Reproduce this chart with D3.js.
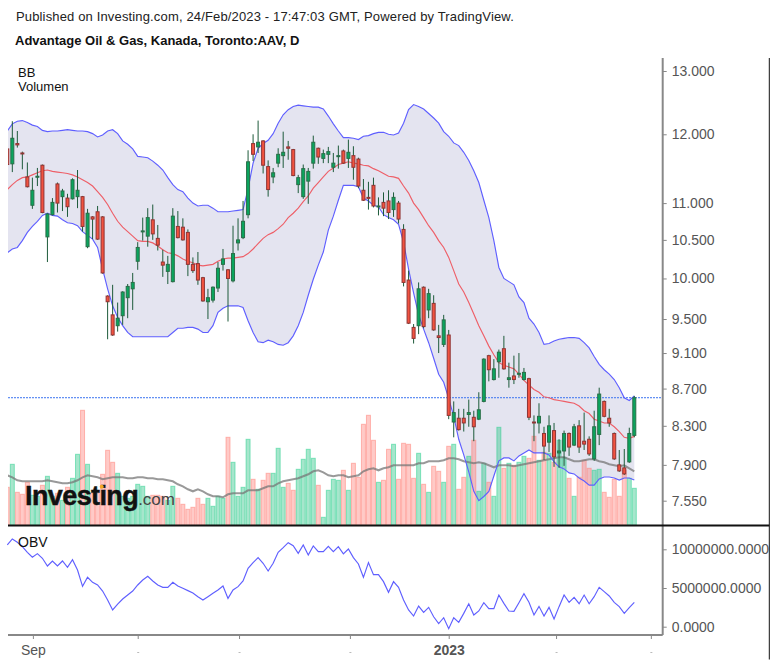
<!DOCTYPE html>
<html>
<head>
<meta charset="utf-8">
<script src="https://cdn.jsdelivr.net/npm/d3@7"></script>
<style>
    html, body { margin: 0; padding: 0; background: #fff; }
    svg { display: block; font-family: "Liberation Sans", Arial, sans-serif; }
    .axis text { font-size: 14px; fill: #555; }
    .axis path, .axis line { stroke: #888; }
    .axis path { stroke-width: 2; }
</style>
</head>
<body>
<svg id="chart" width="777" height="664"></svg>
<script>
// daily candles, AAV Toronto
const opens = [
    11.78,11.56,11.86,11.72,11.37,10.97,11.37,11.54,10.54,10.84,
    11.27,11.09,11.07,11.06,11.09,11.09,10.41,10.81,10.88,10.81,
    9.78,9.55,9.42,9.54,9.76,9.87,10.22,10.61,10.55,10.77,
    10.52,10.21,10.09,9.96,10.68,10.67,10.60,10.18,10.19,10.01,
    9.71,9.73,9.88,10.18,10.11,9.97,10.46,10.53,10.84,11.86,
    11.81,11.90,11.52,11.37,11.57,11.68,11.81,11.77,11.26,11.09,
    11.31,11.57,11.79,11.64,11.70,11.51,11.67,11.75,11.64,11.68,
    11.63,11.18,11.08,11.25,10.95,11.01,11.03,10.91,11.00,10.64,
    9.98,9.40,9.42,9.89,9.61,9.69,9.30,9.20,9.31,8.34,
    8.38,8.38,8.42,8.39,8.37,8.56,9.07,8.80,9.00,9.15,
    8.80,8.84,8.86,8.80,8.81,8.34,8.33,8.22,8.13,8.25,
    8.02,8.04,8.22,8.10,8.30,8.14,8.16,7.96,8.21,8.56,
    8.38,8.22,7.90,7.87,7.93,8.20];
const highs = [
    11.80,12.20,12.05,11.74,11.58,11.36,11.50,11.55,10.86,11.07,
    11.29,11.20,11.13,11.35,11.47,11.10,10.92,10.82,10.96,10.82,
    9.79,9.92,9.70,9.84,9.93,10.07,10.47,10.80,10.93,10.98,
    10.70,10.37,10.29,10.93,10.89,10.79,10.64,10.27,10.34,10.02,
    9.87,9.90,10.21,10.38,10.12,10.69,10.79,11.03,11.76,12.00,
    12.21,11.91,11.61,11.50,11.79,12.04,11.90,11.78,11.40,11.55,
    11.50,11.98,11.80,11.77,11.81,11.72,11.83,11.77,11.92,11.82,
    11.65,11.34,11.30,11.36,11.08,11.15,11.18,11.15,11.03,10.71,
    10.10,9.44,9.95,9.90,9.87,9.79,9.43,9.55,9.37,8.56,
    8.48,8.48,8.58,8.46,8.66,9.04,9.08,9.03,9.14,9.30,
    8.99,9.07,9.10,8.93,8.82,8.41,8.54,8.29,8.41,8.33,
    8.16,8.25,8.23,8.32,8.36,8.44,8.19,8.46,8.71,8.57,
    8.48,8.23,8.05,8.06,8.28,8.62];
const lows = [
    11.54,11.44,11.80,11.48,11.22,10.92,11.24,10.86,10.21,10.83,
    10.87,10.89,10.81,11.05,10.93,10.61,10.39,10.51,10.50,10.06,
    9.26,9.30,9.35,9.43,9.51,9.61,10.11,10.49,10.41,10.50,
    10.36,10.02,9.93,9.95,10.52,10.49,10.03,10.07,9.92,9.71,
    9.50,9.70,9.83,10.10,9.47,9.95,10.36,10.51,10.79,11.60,
    11.72,11.42,11.09,11.28,11.51,11.50,11.62,11.38,11.14,11.06,
    10.99,11.49,11.56,11.57,11.57,11.44,11.49,11.56,11.50,11.33,
    11.21,11.03,10.91,10.94,10.83,10.82,10.78,10.81,10.72,9.90,
    9.44,9.21,9.32,9.39,9.51,9.36,9.10,9.17,8.37,8.18,
    8.25,8.24,8.29,8.14,8.36,8.55,8.78,8.79,8.82,8.91,
    8.71,8.75,8.82,8.79,8.36,8.14,8.22,7.95,8.03,7.88,
    7.87,7.89,7.99,8.09,8.02,8.05,7.99,7.94,8.10,8.39,
    8.29,7.95,7.83,7.80,7.92,8.18];
const closes = [
    11.55,11.94,11.84,11.71,11.23,11.18,11.38,10.87,10.85,11.01,
    11.00,11.17,10.95,11.33,11.18,10.68,10.86,10.78,10.51,10.07,
    9.71,9.31,9.51,9.83,9.90,9.95,10.40,10.62,10.80,10.58,
    10.43,10.17,10.18,10.82,10.53,10.50,10.18,10.10,9.98,9.72,
    9.76,9.89,10.13,10.25,10.00,10.32,10.50,10.75,11.59,11.70,
    11.88,11.54,11.19,11.43,11.70,11.73,11.79,11.39,11.36,11.49,
    11.45,11.88,11.66,11.71,11.74,11.57,11.68,11.57,11.73,11.51,
    11.24,11.04,11.07,10.96,10.96,10.93,10.87,11.08,10.78,9.95,
    9.45,9.27,9.87,9.41,9.81,9.37,9.28,9.49,8.41,8.44,
    8.26,8.33,8.44,8.29,8.47,9.03,8.91,8.92,9.11,8.92,
    8.82,8.80,8.87,8.88,8.39,8.33,8.40,8.09,8.30,7.98,
    8.04,8.22,8.08,8.29,8.08,8.11,8.01,8.29,8.64,8.40,
    8.33,7.96,7.84,7.81,8.22,8.60];

// volume, thousands of shares (no scale on the picture, so an estimate)
const volumes = [
    380,610,330,310,430,300,290,400,490,290,
    320,250,380,470,710,1150,610,320,320,510,
    750,630,520,290,270,290,410,390,290,300,
    300,290,250,390,270,210,160,180,270,210,
    270,190,290,270,880,630,290,380,860,460,
    360,450,520,520,770,380,420,350,560,660,
    760,670,400,80,350,460,450,550,350,620,
    480,1010,1100,850,430,450,760,810,460,820,
    810,470,720,410,330,590,540,430,790,810,
    360,480,690,850,340,620,430,290,980,570,
    620,600,630,690,670,890,650,730,720,630,
    850,680,470,290,480,650,570,550,560,330,
    280,460,290,550,470,370];
const volumeMa = [
    500,480,450,440,440,440,440,440,450,440,
    430,420,420,430,450,480,500,490,480,460,
    470,480,480,480,470,470,480,480,470,470,
    460,460,450,440,410,390,360,340,360,340,
    310,290,290,280,310,320,320,320,350,350,
    350,370,390,390,420,440,450,460,470,490,
    510,540,550,530,500,490,500,500,480,490,
    500,540,560,570,550,570,580,600,600,600,
    600,600,620,620,640,640,640,650,670,670,
    660,640,630,620,630,620,600,580,600,600,
    600,590,600,610,620,630,640,650,660,670,
    680,680,660,640,640,650,660,660,640,630,
    610,600,590,600,570,540];

// bollinger bands
const bbUpper = [
    12.05,12.16,12.20,12.21,12.18,12.14,12.12,12.06,12.04,12.05,
    12.05,12.06,12.07,12.06,12.05,12.05,12.04,12.01,11.96,11.99,
    12.05,12.07,12.01,11.90,11.85,11.78,11.67,11.66,11.65,11.60,
    11.54,11.47,11.36,11.26,11.19,11.16,11.07,11.00,10.96,10.97,
    10.97,10.93,10.88,10.88,10.88,10.89,10.90,10.91,11.20,11.57,
    11.79,11.86,11.91,12.01,12.17,12.30,12.38,12.43,12.45,12.44,
    12.43,12.42,12.42,12.39,12.28,12.16,12.05,11.95,11.95,11.94,
    11.92,11.97,11.98,12.01,12.03,12.03,12.00,11.99,12.02,12.17,
    12.38,12.46,12.43,12.39,12.32,12.25,12.17,12.04,11.97,11.87,
    11.83,11.73,11.61,11.46,11.29,11.04,10.80,10.49,10.14,10.00,
    9.96,9.92,9.77,9.70,9.51,9.44,9.34,9.20,9.21,9.24,
    9.26,9.27,9.28,9.28,9.27,9.22,9.16,9.06,8.97,8.91,
    8.86,8.80,8.71,8.60,8.57,8.62];
const bbMiddle = [
    11.19,11.26,11.32,11.36,11.37,11.40,11.43,11.46,11.47,11.45,
    11.44,11.43,11.42,11.40,11.37,11.33,11.29,11.24,11.16,11.08,
    10.98,10.86,10.75,10.67,10.61,10.55,10.49,10.48,10.48,10.46,
    10.42,10.37,10.33,10.32,10.29,10.25,10.22,10.20,10.17,10.16,
    10.17,10.18,10.22,10.25,10.26,10.26,10.27,10.28,10.32,10.38,
    10.45,10.52,10.57,10.60,10.65,10.71,10.80,10.86,10.93,11.02,
    11.10,11.21,11.29,11.37,11.45,11.50,11.55,11.57,11.59,11.57,
    11.56,11.54,11.53,11.49,11.46,11.42,11.38,11.37,11.35,11.24,
    11.14,11.00,10.91,10.80,10.69,10.60,10.49,10.40,10.27,10.10,
    9.93,9.83,9.70,9.56,9.42,9.30,9.18,9.08,8.99,8.96,
    8.94,8.92,8.86,8.79,8.74,8.69,8.66,8.61,8.60,8.58,
    8.57,8.56,8.55,8.54,8.51,8.46,8.43,8.37,8.35,8.33,
    8.33,8.29,8.24,8.18,8.17,8.19];
const bbLower = [
    10.33,10.38,10.40,10.49,10.60,10.68,10.75,10.83,10.86,10.83,
    10.82,10.77,10.73,10.72,10.69,10.61,10.56,10.51,10.40,10.12,
    9.87,9.66,9.52,9.42,9.34,9.29,9.29,9.29,9.29,9.29,
    9.29,9.29,9.29,9.34,9.39,9.39,9.40,9.40,9.38,9.34,
    9.34,9.42,9.58,9.63,9.66,9.66,9.66,9.64,9.48,9.34,
    9.23,9.22,9.25,9.23,9.20,9.19,9.22,9.30,9.42,9.58,
    9.79,9.99,10.17,10.34,10.63,10.82,11.04,11.25,11.25,11.25,
    11.23,11.07,11.03,10.97,10.95,10.84,10.80,10.77,10.71,10.47,
    10.12,9.82,9.55,9.38,9.22,9.04,8.86,8.77,8.59,8.40,
    8.16,8.00,7.83,7.64,7.55,7.59,7.64,7.79,7.94,7.97,
    7.97,7.94,7.99,8.02,8.05,8.02,8.02,8.02,8.00,7.93,
    7.88,7.86,7.82,7.81,7.77,7.74,7.70,7.70,7.76,7.78,
    7.78,7.77,7.75,7.77,7.77,7.75];

// on balance volume, millions
const obv = [
    10.56,11.34,10.91,10.34,9.61,8.97,9.44,8.84,7.84,8.49,
    7.84,8.49,7.67,8.66,7.33,5.22,6.38,5.73,5.39,4.61,
    3.45,2.16,2.93,3.58,4.09,4.61,5.39,6.03,6.51,5.91,
    5.39,5.09,5.09,5.73,5.26,4.96,4.66,4.35,3.88,3.45,
    3.88,4.31,4.74,5.26,3.66,4.74,5.17,5.91,7.54,8.28,
    8.92,8.19,7.20,8.19,9.61,10.22,10.86,10.47,9.48,10.56,
    9.27,10.43,9.70,9.70,10.39,9.70,10.34,9.40,10.04,8.92,
    8.10,6.38,8.28,6.72,6.72,5.82,4.44,5.82,5.09,3.45,
    2.16,1.38,2.67,1.85,2.50,1.29,0.39,1.16,-0.26,1.16,
    0.56,1.72,2.97,1.51,2.03,3.10,2.33,2.33,4.09,3.02,
    2.03,1.98,3.10,4.27,3.15,1.51,2.63,1.38,2.50,0.99,
    2.59,4.09,3.15,3.79,2.97,4.09,2.97,3.88,5.09,4.53,
    3.97,3.15,2.59,1.72,2.46,3.15];

const priceTicks = [13, 12, 11, 10.5, 10, 9.5, 9.1, 8.7, 8.3, 7.9, 7.55];
const obvTicks = [0, 5000000, 10000000];
// month ticks, in bar units since the sessions do not line up with them
const timeTicks = [5.1, 26, 46.2, 68.3, 88, 109.4, 128.3];
const timeLabels = ["Sep", "", "", "", "2023", "", ""];
const lastPrice = 8.60;

const svg = d3.select("#chart");
const plotLeft = 8, plotRight = 662.7;

const x = d3.scaleLinear().domain([0, 125]).range([7.3, 634.3]);
const y = d3.scaleLog().domain([13, 7.55]).range([71, 500.7]);
const yVol = d3.scaleLinear().domain([0, 1300]).range([525.3, 395.3]);
const yObv = d3.scaleLinear().domain([0, 10000000]).range([626.7, 549.3]);

const bars = opens.map((o, i) => ({
    i, o, h: highs[i], l: lows[i], c: closes[i], up: closes[i] >= o
}));

const defs = svg.append("defs");
defs.append("clipPath").attr("id", "mainClip").append("rect")
    .attr("x", plotLeft).attr("y", 58).attr("width", plotRight - plotLeft).attr("height", 467);

// headers
svg.append("text").attr("x", 16).attr("y", 21).attr("font-size", 13).attr("letter-spacing", 0.15).attr("fill", "#222")
    .text("Published on Investing.com, 24/Feb/2023 - 17:47:03 GMT, Powered by TradingView.");
svg.append("text").attr("x", 15).attr("y", 45).attr("font-size", 13).attr("font-weight", "bold").attr("fill", "#111")
    .text("Advantage Oil & Gas, Kanada, Toronto:AAV, D");

const main = svg.append("g").attr("clip-path", "url(#mainClip)");

// band fill
const band = d3.area().x((d, i) => x(i)).y0((d, i) => y(bbLower[i])).y1(d => y(d));
main.append("path").datum(bbUpper).attr("d", band).attr("fill", "#e4e4f0");

// volume
main.selectAll(".vol")
    .data(bars)
    .enter()
    .append("rect")
    .attr("class", "vol")
    .attr("x", d => x(d.i) - 2)
    .attr("y", d => yVol(volumes[d.i]))
    .attr("width", 4)
    .attr("height", d => yVol(0) - yVol(volumes[d.i]))
    .attr("fill", d => d.up ? "#20c080" : "#ff7b72")
    .attr("fill-opacity", 0.4)
    .attr("stroke", d => d.up ? "#20d08a" : "#ff7b72")
    .attr("stroke-opacity", 0.5)
    .attr("stroke-width", 1);

const volLine = d3.line().x((d, i) => x(i)).y(d => yVol(d));
main.append("path").datum(volumeMa).attr("d", volLine)
    .attr("fill", "none").attr("stroke", "#777").attr("stroke-opacity", 0.75).attr("stroke-width", 2);

// last price
main.append("line")
    .attr("x1", plotLeft).attr("x2", plotRight)
    .attr("y1", y(lastPrice)).attr("y2", y(lastPrice))
    .attr("stroke", "#3a72f0").attr("stroke-width", 1).attr("stroke-dasharray", "2,1");

// band lines
const priceLine = d3.line().x((d, i) => x(i)).y(d => y(d));
[[bbUpper, "#5f5fff"], [bbLower, "#5f5fff"], [bbMiddle, "#ee5f68"]].forEach(([series, color]) => {
    main.append("path").datum(series).attr("d", priceLine)
        .attr("fill", "none").attr("stroke", color).attr("stroke-width", 1.15);
});

// candles
main.selectAll(".wick")
    .data(bars)
    .enter()
    .append("line")
    .attr("class", "wick")
    .attr("x1", d => x(d.i)).attr("x2", d => x(d.i))
    .attr("y1", d => y(d.h)).attr("y2", d => y(d.l))
    .attr("stroke", "#1d5a3a").attr("stroke-width", 1);

main.selectAll(".body")
    .data(bars)
    .enter()
    .append("rect")
    .attr("class", "body")
    .attr("x", d => x(d.i) - 1.5)
    .attr("y", d => y(Math.max(d.o, d.c)))
    .attr("width", 3)
    .attr("height", d => Math.max(1, y(Math.min(d.o, d.c)) - y(Math.max(d.o, d.c))))
    .attr("fill", d => d.up ? "#0aa55e" : "#f2523f")
    .attr("stroke", d => d.up ? "#2a6e48" : "#8f3434")
    .attr("stroke-width", 1);

// logo
const logo = svg.append("text").attr("x", 25).attr("y", 505);
logo.append("tspan").attr("font-size", 27).attr("font-weight", "bold").attr("letter-spacing", -0.6)
    .attr("fill", "#111").attr("stroke", "#111").attr("stroke-width", 0.5).text("Investing");
logo.append("tspan").attr("font-size", 17).attr("fill", "#444").text(".com");
svg.append("circle").attr("cx", 101.7).attr("cy", 486.7).attr("r", 2).attr("fill", "#f5a623");

svg.append("text").attr("x", 18).attr("y", 77).attr("font-size", 13).attr("fill", "#111").text("BB");
svg.append("text").attr("x", 18).attr("y", 91).attr("font-size", 13).attr("fill", "#111").text("Volumen");

// OBV pane
svg.append("path").datum(obv.map(d => d * 1e6))
    .attr("d", d3.line().x((d, i) => x(i)).y(d => yObv(d)))
    .attr("fill", "none").attr("stroke", "#5f5fff").attr("stroke-width", 1.15);
svg.append("text").attr("x", 18).attr("y", 547).attr("font-size", 14).attr("fill", "#111").text("OBV");

// axes
svg.append("g").attr("class", "axis")
    .attr("transform", `translate(${plotRight},0)`)
    .call(d3.axisRight(y).tickValues(priceTicks).tickFormat(d3.format(".3f")).tickSize(4).tickPadding(5))
    .call(g => g.select(".domain").attr("d", "M0,58V525"));

svg.append("g").attr("class", "axis")
    .attr("transform", `translate(${plotRight},0)`)
    .call(d3.axisRight(yObv).tickValues(obvTicks).tickFormat(d3.format(".4f")).tickSize(4).tickPadding(5))
    .call(g => g.select(".domain").attr("d", "M0,526V635"));

svg.append("g").attr("class", "axis")
    .attr("transform", "translate(0,635)")
    .call(d3.axisBottom(x).tickValues(timeTicks).tickFormat((d, i) => timeLabels[i]).tickSize(4).tickPadding(6))
    .call(g => g.select(".domain").attr("d", `M${plotLeft},0H${plotRight}`))
    .call(g => g.selectAll("text").attr("font-weight", d => d === 88 ? "bold" : null))
    // the unlabelled ticks leave a small speck below them
    .call(g => g.selectAll(".tick").filter((d, i) => !timeLabels[i]).append("rect")
        .attr("x", -1).attr("y", 17).attr("width", 2).attr("height", 1).attr("fill", "#bbb"));

// frame
svg.append("line").attr("x1", plotLeft).attr("x2", 769.3).attr("y1", 525.5).attr("y2", 525.5)
    .attr("stroke", "#111").attr("stroke-width", 2);
svg.append("line").attr("x1", 769.3).attr("x2", 769.3).attr("y1", 58).attr("y2", 659.5)
    .attr("stroke", "#111").attr("stroke-width", 1);
// white margin past the frame so the long OBV labels stop at it
svg.append("rect").attr("x", 770).attr("y", 0).attr("width", 7).attr("height", 664).attr("fill", "#fff");
</script>
</body>
</html>
